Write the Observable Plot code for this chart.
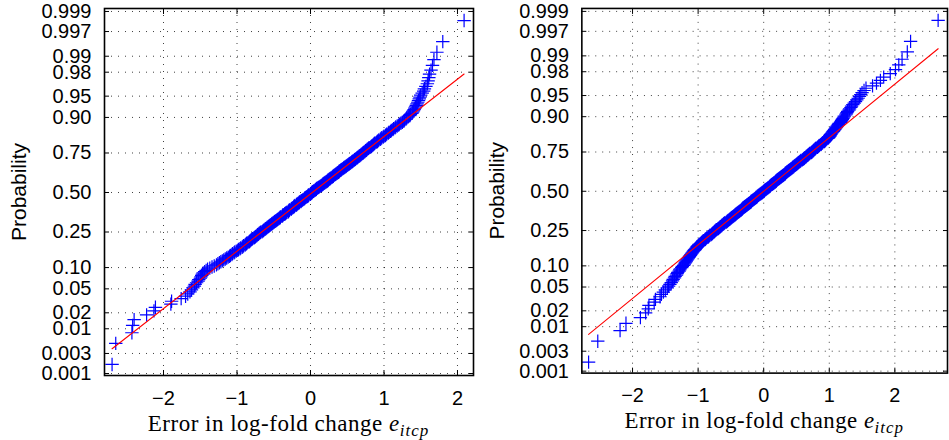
<!DOCTYPE html>
<html><head><meta charset="utf-8">
<script src="https://cdn.jsdelivr.net/npm/d3@7"></script>
<script src="https://cdn.jsdelivr.net/npm/@observablehq/plot@0.6"></script>
<style>
html,body{margin:0;padding:0;background:#fff;}
#wrap{position:relative;width:949px;height:440px;overflow:hidden;background:#fff;}
#wrap > div{position:absolute;top:0;}
</style></head>
<body>
<div id="wrap"><div id="left" style="left:0px"></div><div id="right" style="left:478px"></div></div>
<script>
// Probability axis ticks
const probTicks = [0.001,0.003,0.01,0.02,0.05,0.10,0.25,0.50,0.75,0.90,0.95,0.98,0.99,0.997,0.999];
const probTickLabels = ["0.001","0.003","0.01","0.02","0.05","0.10","0.25","0.50","0.75","0.90","0.95","0.98","0.99","0.997","0.999"];
const xTicks = [-2,-1,0,1,2];
const xAxisTitle = "Error in log-fold change ";
const xAxisSymbol = "e";
const xAxisSub = "itcp";
const yAxisTitle = "Probability";

// Errors in log-fold change, left panel (sorted sample)
const errorsLeft = [
-2.70,-2.65,-2.43,-2.42,-2.40,-2.23,-2.13,-2.11,-1.90,-1.89,
-1.76,-1.70,-1.67,-1.64,-1.62,-1.60,-1.58,-1.57,-1.55,-1.53,
-1.52,-1.50,-1.49,-1.48,-1.47,-1.46,-1.44,-1.42,-1.40,-1.37,
-1.34,-1.31,-1.28,-1.26,-1.24,-1.22,-1.20,-1.18,-1.16,-1.14,
-1.12,-1.10,-1.09,-1.07,-1.06,-1.04,-1.03,-1.01,-0.99,-0.98,
-0.96,-0.95,-0.93,-0.92,-0.91,-0.89,-0.88,-0.87,-0.86,-0.84,
-0.83,-0.82,-0.81,-0.80,-0.79,-0.77,-0.76,-0.75,-0.74,-0.73,
-0.72,-0.71,-0.70,-0.69,-0.68,-0.66,-0.65,-0.64,-0.63,-0.62,
-0.61,-0.60,-0.59,-0.58,-0.57,-0.56,-0.55,-0.54,-0.53,-0.52,
-0.51,-0.50,-0.49,-0.48,-0.47,-0.46,-0.45,-0.44,-0.43,-0.42,
-0.41,-0.41,-0.39,-0.38,-0.38,-0.37,-0.35,-0.35,-0.34,-0.33,
-0.32,-0.30,-0.30,-0.29,-0.29,-0.28,-0.26,-0.26,-0.25,-0.24,
-0.23,-0.22,-0.22,-0.21,-0.19,-0.19,-0.18,-0.17,-0.16,-0.15,
-0.15,-0.13,-0.13,-0.12,-0.11,-0.10,-0.09,-0.08,-0.08,-0.07,
-0.06,-0.05,-0.04,-0.03,-0.03,-0.02,0.00,0.00,0.01,0.02,
0.02,0.03,0.04,0.05,0.06,0.07,0.08,0.08,0.09,0.10,
0.11,0.12,0.13,0.14,0.15,0.16,0.17,0.17,0.18,0.19,
0.20,0.21,0.22,0.23,0.24,0.24,0.25,0.26,0.27,0.28,
0.29,0.30,0.31,0.31,0.32,0.33,0.34,0.35,0.36,0.37,
0.38,0.39,0.39,0.40,0.41,0.42,0.43,0.44,0.45,0.46,
0.47,0.48,0.49,0.50,0.51,0.52,0.53,0.54,0.55,0.56,
0.57,0.58,0.59,0.60,0.61,0.62,0.63,0.64,0.65,0.66,
0.67,0.68,0.69,0.70,0.71,0.72,0.73,0.74,0.75,0.76,
0.77,0.78,0.79,0.80,0.82,0.83,0.84,0.85,0.86,0.87,
0.88,0.90,0.91,0.92,0.93,0.95,0.96,0.97,0.99,1.00,
1.02,1.03,1.04,1.06,1.07,1.09,1.10,1.12,1.13,1.15,
1.16,1.18,1.20,1.21,1.23,1.25,1.27,1.28,1.30,1.31,
1.33,1.35,1.36,1.38,1.39,1.40,1.41,1.42,1.43,1.44,
1.45,1.46,1.47,1.48,1.49,1.50,1.52,1.54,1.55,1.57,
1.59,1.60,1.61,1.62,1.64,1.66,1.68,1.72,1.80,2.09
];

// Errors in log-fold change, right panel
const errorsRight = [
-2.67,-2.53,-2.19,-2.10,-1.88,-1.80,-1.76,-1.75,-1.67,-1.65,
-1.58,-1.56,-1.53,-1.50,-1.47,-1.45,-1.43,-1.41,-1.39,-1.38,
-1.36,-1.35,-1.33,-1.32,-1.31,-1.29,-1.28,-1.27,-1.25,-1.24,
-1.22,-1.21,-1.20,-1.19,-1.18,-1.17,-1.16,-1.15,-1.14,-1.13,
-1.12,-1.11,-1.10,-1.09,-1.08,-1.07,-1.06,-1.05,-1.04,-1.03,
-1.02,-1.01,-1.00,-0.99,-0.98,-0.96,-0.95,-0.94,-0.93,-0.92,
-0.90,-0.89,-0.88,-0.87,-0.85,-0.84,-0.83,-0.82,-0.80,-0.79,
-0.78,-0.77,-0.76,-0.75,-0.74,-0.73,-0.72,-0.70,-0.69,-0.68,
-0.67,-0.66,-0.65,-0.64,-0.63,-0.62,-0.61,-0.60,-0.59,-0.57,
-0.56,-0.55,-0.54,-0.53,-0.52,-0.51,-0.50,-0.49,-0.48,-0.47,
-0.46,-0.45,-0.44,-0.43,-0.42,-0.41,-0.40,-0.39,-0.38,-0.37,
-0.36,-0.35,-0.34,-0.33,-0.33,-0.32,-0.31,-0.30,-0.29,-0.28,
-0.27,-0.26,-0.25,-0.24,-0.23,-0.22,-0.21,-0.20,-0.19,-0.19,
-0.18,-0.17,-0.16,-0.15,-0.14,-0.13,-0.12,-0.11,-0.10,-0.10,
-0.09,-0.08,-0.07,-0.06,-0.05,-0.04,-0.03,-0.02,-0.01,0.00,
0.01,0.01,0.02,0.03,0.04,0.05,0.06,0.07,0.08,0.09,
0.10,0.10,0.11,0.12,0.13,0.14,0.15,0.16,0.17,0.18,
0.19,0.19,0.20,0.21,0.22,0.23,0.24,0.25,0.26,0.27,
0.28,0.29,0.30,0.31,0.32,0.33,0.33,0.34,0.35,0.36,
0.37,0.38,0.39,0.40,0.41,0.42,0.43,0.44,0.45,0.46,
0.47,0.48,0.49,0.50,0.51,0.52,0.53,0.54,0.55,0.56,
0.57,0.59,0.60,0.61,0.62,0.63,0.64,0.65,0.66,0.67,
0.68,0.69,0.70,0.72,0.73,0.74,0.75,0.76,0.77,0.78,
0.79,0.80,0.82,0.83,0.84,0.85,0.87,0.88,0.89,0.90,
0.92,0.93,0.94,0.95,0.96,0.98,0.99,1.00,1.01,1.01,
1.02,1.03,1.04,1.05,1.06,1.07,1.08,1.09,1.10,1.11,
1.12,1.13,1.14,1.15,1.17,1.18,1.19,1.20,1.21,1.22,
1.23,1.25,1.26,1.27,1.28,1.30,1.31,1.33,1.34,1.36,
1.38,1.40,1.42,1.44,1.46,1.48,1.50,1.53,1.56,1.66,
1.72,1.78,1.83,1.93,2.01,2.06,2.11,2.19,2.24,2.66
];

// inverse standard normal CDF (probit), Acklam's approximation
function probit(p){
  const a=[-3.969683028665376e+01,2.209460984245205e+02,-2.759285104469687e+02,1.383577518672690e+02,-3.066479806614716e+01,2.506628277459239e+00];
  const b=[-5.447609879822406e+01,1.615858368580409e+02,-1.556989798598866e+02,6.680131188771972e+01,-1.328068155288572e+01];
  const c=[-7.784894002430293e-03,-3.223964580411365e-01,-2.400758277161838e+00,-2.549732539343734e+00,4.374664141464968e+00,2.938163982698783e+00];
  const d=[7.784695709041462e-03,3.224671290700398e-01,2.445134137142996e+00,3.754408661907416e+00];
  const plow=0.02425, phigh=1-plow;
  let q,r;
  if(p<plow){q=Math.sqrt(-2*Math.log(p));return (((((c[0]*q+c[1])*q+c[2])*q+c[3])*q+c[4])*q+c[5])/((((d[0]*q+d[1])*q+d[2])*q+d[3])*q+1);}
  if(p>phigh){q=Math.sqrt(-2*Math.log(1-p));return -(((((c[0]*q+c[1])*q+c[2])*q+c[3])*q+c[4])*q+c[5])/((((d[0]*q+d[1])*q+d[2])*q+d[3])*q+1);}
  q=p-0.5;r=q*q;
  return (((((a[0]*r+a[1])*r+a[2])*r+a[3])*r+a[4])*r+a[5])*q/(((((b[0]*r+b[1])*r+b[2])*r+b[3])*r+b[4])*r+1);
}

const zTicks = probTicks.map(probit);
const zLabel = new Map(zTicks.map((z,i)=>[z, probTickLabels[i]]));
const sansFont = "'Liberation Sans', Arial, Helvetica, sans-serif";
const serifFont = "'Liberation Serif', 'Times New Roman', serif";

function normPanel(values, xDomain, width, marginLeft, marginRight){
  const n = values.length;
  const sorted = values.slice().sort(d3.ascending);
  const pts = sorted.map((x,i)=>({x, z: probit((i+0.5)/n)}));
  const q1 = d3.quantile(sorted,0.25), q3 = d3.quantile(sorted,0.75);
  const z1 = probit(0.25), z3 = probit(0.75);
  const slope = (z3-z1)/(q3-q1);
  const xmin = sorted[0], xmax = sorted[n-1];
  const ref = [{x:xmin, z: z1+slope*(xmin-q1)}, {x:xmax, z: z1+slope*(xmax-q1)}];
  const gridStyle = {stroke:"#000", strokeOpacity:0.75, strokeWidth:1, strokeDasharray:"1,6"};
  const svg = Plot.plot({
    width, height: 440, marginLeft, marginRight, marginTop: 8, marginBottom: 65,
    x: {domain: xDomain},
    y: {domain: [-3.124, 3.141]},
    style: {fontFamily: sansFont, fontSize: "20px", color: "#000", background: "#fff", overflow: "visible"},
    marks: [
      Plot.gridX(xTicks, gridStyle),
      Plot.gridY(zTicks, gridStyle),
      Plot.dot(pts, {x:"x", y:"z", symbol:"plus", r:4.4, stroke:"#0000ff", strokeWidth:1.2}),
      Plot.line(ref, {x:"x", y:"z", stroke:"#ff0000", strokeWidth:1.1}),
      // inward tick marks on all four sides
      Plot.axisY(zTicks, {anchor:"left", tickSize:5, dx:5, tickFormat:()=>"", label:null}),
      Plot.axisY(zTicks, {anchor:"right", tickSize:5, dx:-5, tickFormat:()=>"", label:null}),
      Plot.axisX(xTicks, {anchor:"bottom", tickSize:5, dy:-5, tickFormat:()=>"", label:null}),
      Plot.axisX(xTicks, {anchor:"top", tickSize:5, dy:5, tickFormat:()=>"", label:null}),
      // labels
      Plot.axisY(zTicks, {anchor:"left", tickSize:0, tickPadding:13, tickFormat: z => zLabel.get(z), fontSize:20, label:null}),
      Plot.axisX(xTicks, {anchor:"bottom", tickSize:0, tickPadding:15, fontSize:20, label:null}),
      Plot.frame({stroke:"#000", strokeWidth:1.6})
    ]
  });
  const s = d3.select(svg);
  const yc = svg.scale("y").apply(0);
  const xr = svg.scale("x").range;
  const cx = (xr[0]+xr[1])/2;
  s.append("text")
    .attr("transform", `translate(${marginLeft-85},${yc}) rotate(-90)`)
    .attr("text-anchor","middle").attr("dy","0.35em")
    .attr("font-family", sansFont).attr("font-size", 21).attr("fill","#000")
    .text(yAxisTitle);
  const t = s.append("text")
    .attr("x", cx).attr("y", 431).attr("text-anchor","middle")
    .attr("font-family", serifFont).attr("font-size", 23).attr("fill","#000")
    .attr("letter-spacing", "0.5px");
  t.append("tspan").text(xAxisTitle);
  t.append("tspan").attr("font-style","italic").text(xAxisSymbol);
  t.append("tspan").attr("font-style","italic").attr("font-size",17).attr("dy",5).attr("letter-spacing","1px").text(xAxisSub);
  return svg;
}

document.getElementById("left").appendChild(normPanel(errorsLeft, [-2.803, 2.218], 478, 104, 5));
document.getElementById("right").appendChild(normPanel(errorsRight, [-2.773, 2.803], 474, 104, 2));
</script>
</body></html>
